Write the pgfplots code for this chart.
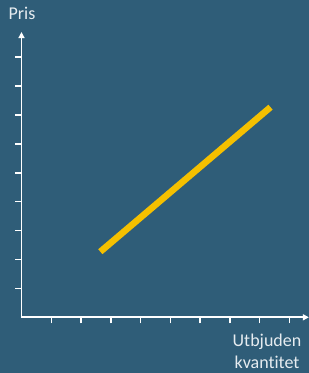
\documentclass[border=0pt]{standalone}
\usepackage{pgfplots}
\pgfplotsset{compat=1.18}
\usepackage{fontspec}
\setmainfont{Carlito}[Ligatures=NoCommon]
\usetikzlibrary{arrows.meta}
\definecolor{bg}{HTML}{2F5D78}
\definecolor{ylw}{HTML}{F5C000}
\definecolor{txt}{HTML}{E6ECF0}
\begin{document}
\begin{tikzpicture}
\useasboundingbox (0,0) rectangle (309bp,373bp);
\fill[bg] (0,0) rectangle (309bp,373bp);
\begin{axis}[
  at={(21.5bp,55.7bp)}, anchor=south west,
  scale only axis,
  x=29.75bp, y=28.9bp,
  xmin=0, xmax=9.66, ymin=0, ymax=9.87,
  axis lines=left,
  axis line style={white, line width=1.8bp, -{Triangle[length=6bp,width=6bp]}},
  xtick={1,...,9}, ytick={1,...,9},
  xticklabels={}, yticklabels={},
  tick align=outside,
  major tick length=6bp,
  tick style={white, line width=1.5bp},
  clip=false,
]
\addplot[ylw, line width=6.5bp, line cap=butt] coordinates {(2.65,2.27) (8.37,7.27)};
\end{axis}
\node[txt, font=\fontsize{18bp}{21.5bp}\selectfont, anchor=base, inner sep=0pt] at (22bp,353bp) {Pris};
\node[txt, font=\fontsize{18bp}{21.5bp}\selectfont, anchor=base, inner sep=0pt] at (267bp,26.3bp) {Utbjuden};
\node[txt, font=\fontsize{18bp}{21.5bp}\selectfont, anchor=base, inner sep=0pt] at (267bp,5bp) {kvantitet};
\end{tikzpicture}
\end{document}
